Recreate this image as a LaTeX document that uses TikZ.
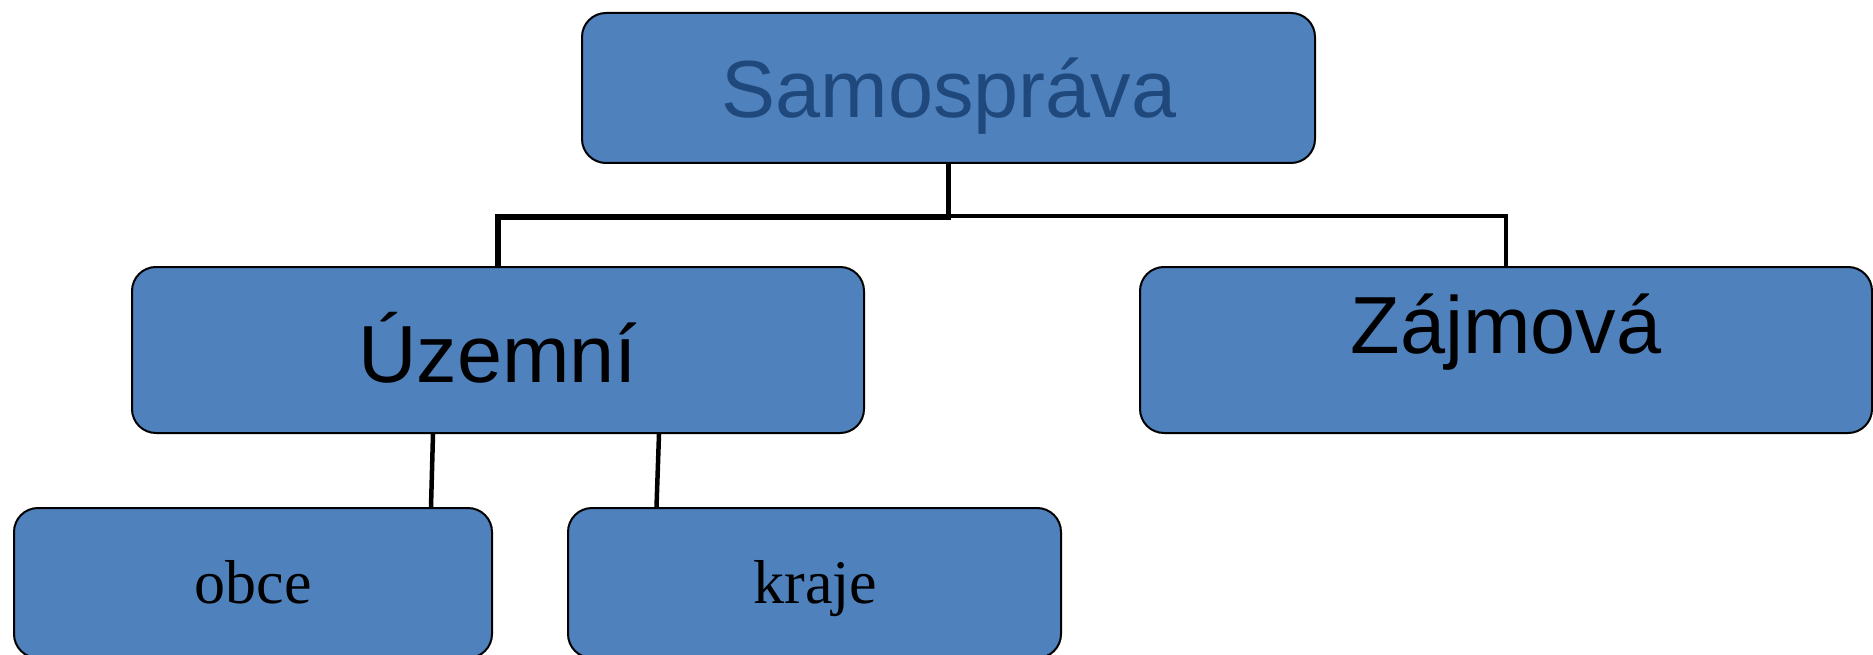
\documentclass[tikz,border=0pt]{standalone}
\usepackage{fontspec}
\setmainfont{Liberation Sans}
\newfontfamily\serifff{Liberation Serif}
\definecolor{boxblue}{HTML}{4F81BD}
\definecolor{darkblue}{HTML}{1F497D}
\begin{document}
\begin{tikzpicture}[x=1pt,y=-1pt,
  box/.style={draw=black,line width=2pt,fill=boxblue,rounded corners=24pt,rectangle,inner sep=0pt},
  conn/.style={draw=black,line width=5.5pt},
  bigtxt/.style={anchor=base,inner sep=0pt,font=\fontsize{81}{81}\selectfont},
  smalltxt/.style={anchor=base,inner sep=0pt,font=\serifff\fontsize{62}{62}\selectfont}]
\useasboundingbox (0,0) rectangle (1873,655);
\node[box,minimum width=733pt,minimum height=150pt] (sam) at (948.5,88) {};
\node[box,minimum width=732pt,minimum height=166pt] (uz) at (498,350) {};
\node[box,minimum width=732pt,minimum height=166pt] (za) at (1506,350) {};
\node[box,minimum width=478pt,minimum height=150pt] (ob) at (253,583) {};
\node[box,minimum width=493pt,minimum height=150pt] (kr) at (814.5,583) {};
\node[bigtxt,text=darkblue] (samt) at (949,118) {Samospráva};
\node[bigtxt] (uzt) at (498,382) {Územní};
\node[bigtxt] (zat) at (1506,353) {Zájmová};
\node[smalltxt] (obt) at (253,603) {obce};
\node[smalltxt] (krt) at (815.5,603) {kraje};
\draw[conn] (sam.south) -- ++(0,53) -| (uz.north);
\draw[conn,line width=4.5pt] (sam.south) -- ++(0,52) -| (za.north);
\draw[conn,line width=4.5pt] ([xshift=302pt]uz.south west) -- ([xshift=418pt]ob.north west);
\draw[conn,line width=4.5pt] ([xshift=528pt]uz.south west) -- ([xshift=89.5pt]kr.north west);
\end{tikzpicture}
\end{document}
